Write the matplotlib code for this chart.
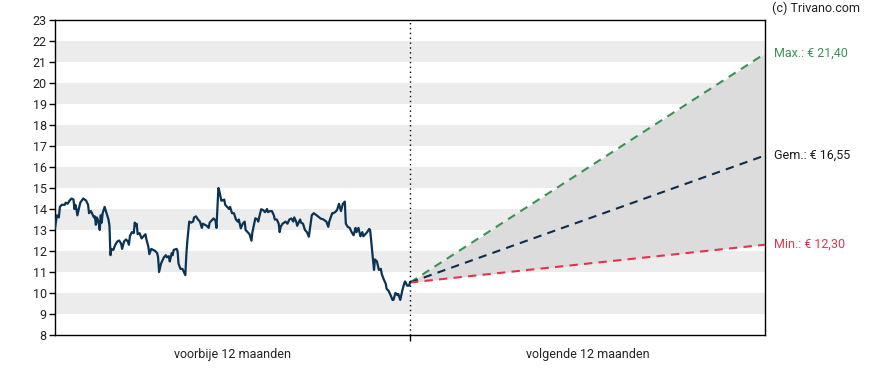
import matplotlib
matplotlib.use("Agg")
import matplotlib.pyplot as plt
import numpy as np

plt.rcParams['font.family'] = ['Roboto', 'DejaVu Sans']

# ---- data ----
past_days = [0, 2, 4, 5, 7, 10, 11, 13, 15, 17, 19, 20, 21, 22, 23, 25, 26, 29, 32, 34,
             35, 37, 38, 40, 41, 42, 43, 44, 45, 46, 47, 48, 49, 51, 53, 55, 56, 57, 58, 60,
             62, 64, 66, 68, 69, 71, 73, 75, 76, 77, 79, 81, 82, 83, 84, 85, 87, 89, 91, 93,
             94, 96, 97, 99, 101, 103, 105, 106, 107, 109, 112, 114, 115, 117, 118, 120, 121, 122, 125, 126,
             127, 129, 131, 132, 134, 135, 136, 138, 140, 142, 143, 145, 147, 149, 151, 152, 154, 156, 158, 159,
             161, 163, 165, 166, 168, 169, 171, 172, 174, 175, 177, 179, 180, 182, 184, 186, 188, 189, 191, 193,
             195, 196, 198, 200, 202, 203, 206, 208, 209, 210, 212, 214, 216, 218, 219, 221, 223, 225, 226, 228,
             230, 231, 232, 234, 237, 239, 241, 243, 245, 246, 248, 249, 252, 253, 255, 257, 259, 261, 264, 266,
             269, 273, 276, 279, 281, 282, 285, 286, 288, 290, 292, 294, 296, 298, 299, 301, 303, 305, 307, 309,
             310, 312, 314, 316, 317, 319, 321, 323, 324, 326, 328, 329, 331, 333, 335, 336, 338, 340, 341, 343,
             345, 347, 348, 350, 352, 353, 355, 357, 359, 360, 362, 364, 365]
past_prices = [13.1, 13.7, 13.6, 14.1, 14.2, 14.2, 14.3, 14.25, 14.4, 14.5, 14.45, 14.0, 14.2, 14.0, 13.7, 14.1, 14.3, 14.5, 14.4, 14.2,
               13.8, 13.9, 13.8, 13.6, 13.65, 13.25, 13.6, 13.5, 13.3, 13.0, 13.7, 13.35, 13.8, 14.1, 13.8, 13.5, 13.2, 11.8, 12.1, 12.05,
               12.3, 12.45, 12.5, 12.35, 12.1, 12.45, 12.55, 12.45, 12.3, 12.7, 12.9, 12.85, 13.35, 13.2, 13.3, 12.8, 12.85, 12.6, 12.7, 12.8,
               12.55, 12.2, 11.85, 12.1, 12.05, 12.0, 11.9, 11.7, 11.0, 11.4, 11.7, 11.8, 11.7, 11.75, 11.5, 11.9, 11.8, 12.05, 12.1, 12.0,
               11.4, 11.15, 11.15, 11.05, 10.85, 11.8, 12.45, 13.4, 13.35, 13.4, 13.6, 13.65, 13.5, 13.4, 13.1, 13.3, 13.25, 13.2, 13.1, 13.35,
               13.45, 13.55, 13.45, 13.1, 15.0, 14.85, 14.4, 14.4, 14.45, 14.2, 14.1, 14.0, 14.1, 13.8, 13.8, 13.5, 13.4, 13.5, 13.08, 13.3,
               13.4, 13.0, 12.9, 12.8, 12.49, 12.9, 13.56, 13.5, 13.4, 13.62, 13.99, 13.95, 13.85, 14.0, 13.85, 13.9, 13.9, 13.7, 13.5, 13.5,
               13.3, 12.9, 13.15, 13.3, 13.4, 13.3, 13.5, 13.55, 13.4, 13.6, 13.4, 13.2, 13.5, 13.35, 13.3, 13.0, 12.9, 12.68, 13.7, 13.8,
               13.7, 13.55, 13.5, 13.4, 13.15, 13.4, 13.8, 13.8, 13.85, 13.95, 14.25, 13.9, 14.25, 14.35, 13.3, 13.15, 13.1, 12.9, 12.75, 13.1,
               12.9, 13.1, 12.7, 12.9, 12.7, 12.8, 12.9, 13.05, 13.0, 12.05, 11.1, 11.6, 11.5, 11.1, 11.15, 10.9, 10.65, 10.45, 10.2, 10.1,
               9.9, 9.67, 9.67, 10.0, 9.9, 9.95, 9.67, 10.1, 10.45, 10.55, 10.35, 10.35, 10.5]

forecast_days = [365, 730]
max_vals = [10.5, 21.40]
avg_vals = [10.5, 16.55]
min_vals = [10.5, 12.30]

y_ticks = list(range(8, 24))
x_labels = ["voorbije 12 maanden", "volgende 12 maanden"]
label_texts = ["Max.: € 21,40", "Gem.: € 16,55", "Min.: € 12,30"]
credit = "(c) Trivano.com"

# ---- styles ----
c_price = "#0b3354"
c_max = "#3d9156"
c_avg = "#0f2d4a"
c_min = "#e6334a"
c_band = "#ececec"
c_fill = "#dcdcdc"
fs = 9

fig = plt.figure(figsize=(8.88, 3.70), dpi=100)
ax = fig.add_axes([55 / 888, 35 / 370, 710 / 888, 315 / 370])

ax.set_xlim(0, 730)
ax.set_ylim(8, 23)

for lo in range(9, 22, 2):
    ax.axhspan(lo, lo + 1, color=c_band, lw=0, zorder=0)

ax.fill_between(forecast_days, min_vals, max_vals, color=c_fill, lw=0, zorder=1)
ax.plot(forecast_days, max_vals, color=c_max, lw=1.5, ls=(0, (4, 3)), zorder=3)
ax.plot(forecast_days, avg_vals, color=c_avg, lw=1.5, ls=(0, (4, 3)), zorder=3)
ax.plot(forecast_days, min_vals, color=c_min, lw=1.5, ls=(0, (4, 3)), zorder=3)

ax.plot(past_days, past_prices, color=c_price, lw=1.6, zorder=4, solid_joinstyle='round')

ax.axvline(365, color="black", lw=1.0, ls=(0, (1, 2.5)), zorder=5)

ax.set_yticks(y_ticks)
ax.set_yticklabels([str(t) for t in y_ticks], fontsize=fs, color="#222222")
ax.set_xticks([365])
ax.set_xticklabels([""])
ax.tick_params(axis='both', direction='out', length=4, width=1, color="black", pad=2)

for s in ax.spines.values():
    s.set_linewidth(1.0)
    s.set_color("black")

for xpos, lab in zip([182.5, 547.5], x_labels):
    ax.text(xpos, -0.04, lab, transform=ax.get_xaxis_transform(), ha='center', va='top',
            fontsize=fs, color="#222222")

ends = [max_vals[-1], avg_vals[-1], min_vals[-1]]
cols = [c_max, "#1a1a1a", c_min]
for v, t, c in zip(ends, label_texts, cols):
    ax.annotate(t, xy=(1.0, v), xycoords=('axes fraction', 'data'), xytext=(6.5, 0),
                textcoords='offset points', ha='left', va='center', fontsize=fs, color=c)

fig.text(772 / 888, 1 - 8 / 370, credit, ha='left', va='center', fontsize=fs, color="#222222")

fig.savefig("out.png", dpi=100)
